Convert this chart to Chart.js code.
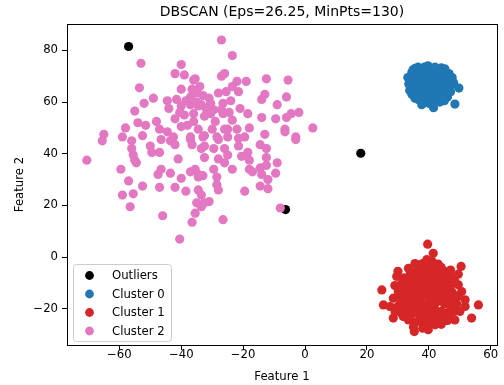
<!DOCTYPE html>
<html>
<head>
<meta charset="utf-8">
<script src="https://cdn.jsdelivr.net/npm/chart.js"></script>
<style>
  body { margin: 0; background: #fff; }
</style>
</head>
<body>
<canvas id="chart" width="504" height="385"></canvas>
<script>
const chartTitle = "DBSCAN (Eps=26.25, MinPts=130)";
const seriesNames = ["Outliers", "Cluster 0", "Cluster 1", "Cluster 2"];
const seriesColors = ["#000000", "#1f77b4", "#d62728", "#e377c2"];
const xTicks = [-60, -40, -20, 0, 20, 40, 60];
const yTicks = [-20, 0, 20, 40, 60, 80];

const outliers = [[-57, 81.5], [18, 40.2], [-6.3, 18.4]];

const cluster0 = [
  [33.2,69.5],[33.5,67],[33.8,64.5],[34.5,71.5],[34.9,72.5],[35.5,73],[36.5,73.5],[38,72.5],[39.7,74],[41,73],
  [42.5,72.5],[44,73.2],[45.2,72.8],[46.5,71],[47.5,69.5],[48,67.5],[49.7,65.4],[47,64],[46,62],[45,60.5],
  [48.4,59.2],[43.5,60],[41.5,57.8],[40,59.5],[37.7,59],[36.5,61],[35.5,61.5],[34.5,63],
  [35,66],[35.5,68.5],[36,70.5],[36.5,64.5],[37,67],[37.5,69.5],[37.5,71.5],[37,62.5],[38,65],[38.5,67.5],
  [38.5,70],[39,63],[39,72],[39.5,66],[39.5,68.5],[40,61],[40,64.5],[40,70.5],[40.5,67],[40.5,69],
  [41,65.5],[41,71.5],[41.5,63],[41.5,68],[42,66.5],[42,70],[42.5,61.5],[42.5,64],[43,67.5],[43,69.5],
  [43.5,71],[43.5,65.5],[44,62.5],[44,68],[44.5,70],[45,66.5],[45,64],[45.5,68.5],[46,70],[46,65.5],
  [46.5,67],[36,62.5],[38,60.5],[41,60],[43,62],[44.5,61.5],[39,66.5],[40.5,66],[41.5,69.5],[42,68],
  [40,68],[39,69.5],[38,68],[37,65.5],[36,67],[42.5,66],[44,66],[43,64],[41,64],[38.5,64],
  [37.5,63.5],[34.5,68.5],[35,70.5],[45,71.5],[47,68],[40,73],[42,73.5],[38.5,73.5],[47,66]
];

const cluster1 = [
  [39.6,5],[41.4,1.5],[39.3,-1],[43,-2.7],[50.4,-3.6],[49.5,-6.6],[48.4,-9.4],[45.2,-5.6],[36.6,-3],[33.4,-4.3],
  [29.6,-7.5],[24.8,-12.7],[30.1,-13.3],[28.5,-15.9],[25.3,-18.5],[27.4,-19.1],[29.1,-21.1],[28.5,-23.6],[31.7,-23],[33.4,-24.3],
  [35.3,-28.8],[39.8,-28.1],[42,-26.2],[38.2,-25.6],[45.2,-24.3],[48.4,-24.3],[53.8,-23.6],[51.7,-19.1],[56,-18.5],[51.7,-16.5],
  [50.6,-13.3],[49.5,-10.7],
  [32,-8],[34,-6],[36,-5.5],[38,-4.5],[40,-3.5],[42,-5],[44,-7],[46,-8],[47,-11],[31,-10.5],
  [33,-11],[35,-9],[37,-8],[39,-7],[41,-8.5],[43,-10],[45,-11.5],[47.5,-13.5],[32,-14],[34,-13],
  [36,-12],[38,-11],[40,-12],[42,-13],[44,-14],[46,-15],[48,-16.5],[31,-17],[33,-16],[35,-15.5],
  [37,-14.5],[39,-15],[41,-16],[43,-17],[45,-18],[47,-19],[49,-18],[32,-20],[34,-19],[36,-18],
  [38,-18.5],[40,-19.5],[42,-20.5],[44,-21],[46,-21.5],[48,-21],[30,-19],[33,-22],[35,-21.5],[37,-22],
  [39,-23],[41,-23.5],[43,-24],[36,-25],[40,-26],[44,-26],[46,-24.5],[30.5,-15],[29,-11],[35.5,-2.5],
  [41,-1.5],[44,-4],[47,-5],[50,-21],[49.5,-15],[37,-10],[39,-13],[41,-11],[43,-15.5],[38,-20.5],
  [36,-16],[34,-24],[42,-18],[40,-17],[45,-15],[35,-27],[38,-27.5],[42,-22],[33,-18],[31,-21.5],
  [30,-5.5],[31.5,-12.5],[33.5,-9],[35.5,-7],[37.5,-6],[39.5,-5],[41.5,-6.5],[43.5,-8.5],[45.5,-9.5],[47.5,-8],
  [32.5,-18],[34.5,-16.5],[36.5,-14],[38.5,-13],[40.5,-14],[42.5,-15],[44.5,-16.5],[46.5,-17.5],[48.5,-19.5],[34.5,-21],
  [36.5,-20],[38.5,-22],[40.5,-21.5],[42.5,-23],[44.5,-23.5],[46.5,-23],[37,-24],[39,-25],[41.5,-25],[35,-12],
  [37,-17],[39,-9.5],[41,-10.5],[43,-12],[45,-13],[33,-13.5],[36,-9],[38,-2.5],[42.5,-3],[46,-6.5]
];

const cluster2 = [
  [-27,84],[-23.5,78],[-53,75],[-40,74.5],[-42,71],[-39,70.5],[-36,68.5],[-27,70],[-26,71],[-22,68],
  [-19,68],[-12.5,69],[-5.5,68.5],[-53.5,65.5],[-40,65],[-36.5,65],[-34,66],[-35.5,69],[-28,63.5],[-25.5,64],
  [-23.5,66],[-21.5,64],[-13,63],[-14,61],[-6,62],[-49,61.5],[-41.5,61],
  [-52,59.5],[-55,56.5],[-44,57.5],[-40,58.5],[-37,59],[-34.5,58.5],[-39,55],[-36,55.5],[-40.5,56],[-33.5,59],
  [-30.5,59.5],[-29.5,57],[-26.5,59.5],[-30.5,55.5],[-32.5,54.5],[-26.5,55.5],[-29,52.5],[-23.5,53],[-21,57.5],[-18.5,55.5],
  [-14,54],[-9.5,53.5],[-6,54],[-4.5,55.5],[-2,56],[-9,59],[-54,52],[-51.5,51],[-48,52.5],[-40,50.5],
  [-38,51],[-37,62],[-33,62.5],[-31,61.5],[-24,60.5],[-27,57],[-24.5,56],[-36,52.5],[-42,53.5],
  [-38.5,60.5],[-35,60],[-32,57.5],[-44.5,60.5],[-35,63.5],
  [2.5,50],[-6.5,49.5],[-58,50],[-47,49.5],[-44.5,48.5],[-65,47.5],[-59,46.5],[-52.5,47],[-37,46.5],[-32.5,47],
  [-28.5,46.5],[-25,49.5],[-22,49.5],[-18,50],[-13,47.5],[-3,46.5],[-6.5,48.5],[-34.5,49.5],[-30,49.5],[-26,49.5],
  [-42.5,46.5],[-46.5,45.5],[-43.5,45],[-42,43.5],[-65.5,45],[-56,45],[-37,45.5],[-36.5,43.5],[-33,46.5],[-32.5,43],
  [-28,45.5],[-25,46.5],[-21.5,46],[-19.5,46.5],[-14.5,43.5],[-12.5,42],[-50,43],[-56,42],[-33.5,42],[-29.5,42],
  [-26,42],[-21.5,43],[-18.5,40.5],[-47,40.5],[-49.5,40.5],[-3,45.5],
  [-55.5,39.5],[-55,37.5],[-54.5,36.5],[-41,38],[-70.5,37.5],[-32.5,38.5],[-28,38],[-25,39.5],[-20.5,39],[-18,37.5],
  [-12.5,38.5],[-9,36.5],[-12.5,35.5],[-14.5,34.5],[-59.5,34],[-46.5,34],[-43.5,32.5],[-47.5,32],[-40,30.5],[-37,33],
  [-34.5,32],[-33,31.5],[-35.5,34],[-29.5,34],[-26,36.5],[-23.5,34],[-18,34],[-14,32],[-9.5,32.5],[-12,30],
  [-34.5,31],[-28.5,31],[-17,33],
  [-57,29.5],[-52.5,27.5],[-47,27],[-42,27],[-38.5,25.5],[-59,24],[-55.5,24.5],[-56.5,19.5],[-33.5,24],[-35,21],
  [-32.5,21],[-28.5,28],[-28,26],[-19.5,25.5],[-14.5,27.5],[-12,26.5],[-34.5,26],[-31,21.5],[-33.5,19.5],[-35.5,17],
  [-26.5,14.5],[-46,16],[-40.5,7],[-36.5,13.5],[-8,19]
];

const allSeries = [outliers, cluster0, cluster1, cluster2];
const FONT = '"DejaVu Sans", sans-serif';
const minus = v => String(v).replace('-', '\u2212');

// title centred over the plot area, box around it, legend inside lower left
const frame = {
  id: 'frame',
  afterDraw(chart) {
    const ctx = chart.ctx;
    const a = chart.chartArea;
    ctx.save();
    ctx.strokeStyle = '#000';
    ctx.lineWidth = 1;
    ctx.strokeRect(Math.round(a.left) + 0.5, Math.round(a.top) + 0.5,
      Math.round(a.right - a.left), Math.round(a.bottom - a.top));

    ctx.fillStyle = '#000';
    ctx.font = '14px ' + FONT;
    ctx.textAlign = 'center';
    ctx.textBaseline = 'middle';
    ctx.fillText(chartTitle, (a.left + a.right) / 2, a.top - 12);

    // legend
    const bx = a.left + 6, bw = 98, bh = 77, by = a.bottom - 4 - bh;
    ctx.beginPath();
    ctx.roundRect(bx + 0.5, by + 0.5, bw, bh, 3);
    ctx.fillStyle = 'rgba(255,255,255,0.8)';
    ctx.fill();
    ctx.strokeStyle = '#cccccc';
    ctx.stroke();
    ctx.font = '11.7px ' + FONT;
    ctx.textAlign = 'left';
    seriesNames.forEach((name, i) => {
      const y = by + 11.5 + i * 18.5;
      ctx.beginPath();
      ctx.arc(bx + 16.5, y, 4.4, 0, Math.PI * 2);
      ctx.fillStyle = seriesColors[i];
      ctx.fill();
      ctx.fillStyle = '#000';
      ctx.fillText(name, bx + 39, y + 0.5);
    });
    ctx.restore();
  }
};

function axis(min, max, ticks, label, isX) {
  return {
    type: 'linear',
    min: min,
    max: max,
    afterBuildTicks: s => { s.ticks = ticks.map(v => ({ value: v })); },
    afterFit: s => { if (isX) s.height = 40; else s.width = 67; },
    ticks: {
      color: '#000',
      font: { family: FONT, size: 11.7 },
      padding: isX ? -2.5 : 4,
      maxRotation: 0,
      autoSkip: false,
      callback: v => minus(v)
    },
    grid: { display: true, drawOnChartArea: false, drawTicks: true, tickLength: 5, color: '#000' },
    border: { display: true, color: '#000' },
    title: {
      display: true,
      text: label,
      color: '#000',
      font: { family: FONT, size: 11.7 },
      padding: isX ? { top: 2, bottom: 1 } : { top: 13, bottom: 2 }
    }
  };
}

new Chart(document.getElementById('chart'), {
  type: 'scatter',
  data: {
    datasets: allSeries.map((pts, i) => ({
      label: seriesNames[i],
      data: pts.map(p => ({ x: p[0], y: p[1] })),
      backgroundColor: seriesColors[i],
      borderWidth: 0,
      pointRadius: 4.6,
      pointHoverRadius: 4.6,
      order: allSeries.length - i
    }))
  },
  options: {
    responsive: false,
    animation: false,
    events: [],
    layout: { padding: { top: 24, right: 7, left: 0, bottom: 0 } },
    plugins: { legend: { display: false }, tooltip: { enabled: false } },
    scales: {
      x: axis(-76.9, 62, xTicks, 'Feature 1', true),
      y: axis(-34, 90.2, yTicks, 'Feature 2', false)
    }
  },
  plugins: [frame]
});
</script>
</body>
</html>
